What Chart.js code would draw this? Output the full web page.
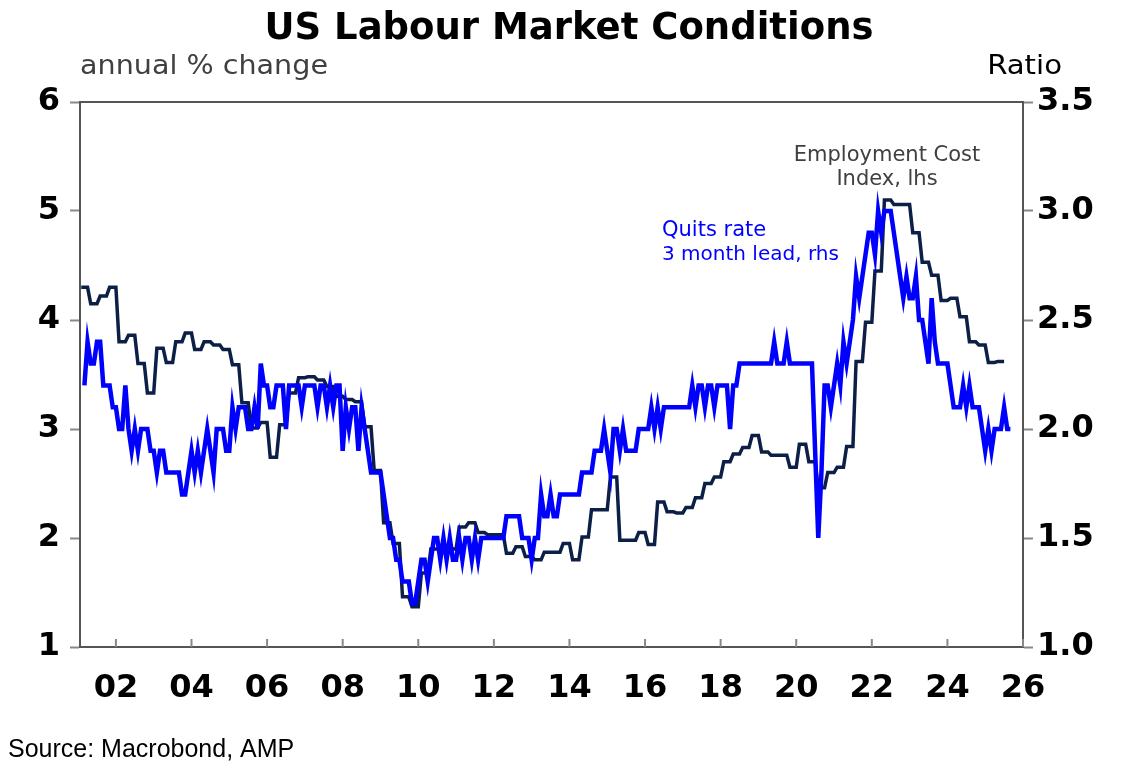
<!DOCTYPE html>
<html>
<head>
<meta charset="utf-8">
<title>US Labour Market Conditions</title>
<script src="https://cdn.jsdelivr.net/npm/chart.js@4.4.1/dist/chart.umd.min.js"></script>
<style>
  html, body { margin: 0; padding: 0; background: #fff; }
  #wrap { width: 1139px; height: 779px; }
</style>
</head>
<body>
<div id="wrap"><canvas id="labourChart" width="1139" height="779"></canvas></div>
<script>
// Employment Cost Index, annual % change, quarterly from 2001Q1 (lhs)
const eciFirstYear = 2001;
const eciValues = [
    4.30, 4.15, 4.22, 4.30,
    3.80, 3.86, 3.60, 3.33,
    3.74, 3.61, 3.80, 3.88,
    3.73, 3.80, 3.77, 3.73,
    3.59, 3.24, 3.01, 3.06,
    2.74, 3.04, 3.33, 3.47,
    3.48, 3.45, 3.39, 3.30,
    3.27, 3.25, 3.02, 2.62,
    2.14, 1.95, 1.46, 1.37,
    1.68, 1.90, 1.90, 1.90,
    2.10, 2.14, 2.05, 2.03,
    2.03, 1.86, 1.92, 1.83,
    1.80, 1.87, 1.87, 1.95,
    1.80, 2.01, 2.26, 2.26,
    2.56, 1.98, 1.98, 2.05,
    1.94, 2.33, 2.24, 2.23,
    2.28, 2.37, 2.50, 2.56,
    2.70, 2.77, 2.83, 2.94,
    2.79, 2.76, 2.76, 2.65,
    2.86, 2.70, 2.46, 2.60,
    2.65, 2.84, 3.62, 3.98,
    4.45, 5.10, 5.06, 5.06,
    4.80, 4.53, 4.41, 4.18,
    4.20, 4.03, 3.80, 3.77,
    3.61, 3.62
];

// Quits rate, 3 month lead, monthly from Mar 2001 (rhs)
const quitsFirstMonth = 2; // 0 = January 2001
const quitsValues = [
    2.2, 2.4, 2.3, 2.3, 2.4, 2.4, 2.2, 2.2, 2.2, 2.1,
    2.1, 2.0, 2.0, 2.2, 2.0, 1.9, 2.0, 1.9, 2.0, 2.0, 2.0, 1.9,
    1.9, 1.8, 1.9, 1.9, 1.8, 1.8, 1.8, 1.8, 1.8, 1.7, 1.7, 1.8,
    1.9, 1.8, 1.9, 1.8, 1.9, 2.0, 1.9, 1.8, 2.0, 2.0, 2.0, 1.9,
    1.9, 2.1, 2.0, 2.1, 2.1, 2.1, 2.0, 2.0, 2.1, 2.0, 2.3, 2.2,
    2.2, 2.1, 2.1, 2.2, 2.2, 2.2, 2.0, 2.2, 2.2, 2.2, 2.2, 2.1,
    2.2, 2.2, 2.2, 2.2, 2.1, 2.2, 2.2, 2.1, 2.2, 2.1, 2.2, 2.2,
    1.9, 2.1, 2.0, 2.1, 2.1, 1.9, 2.1, 2.0, 1.9, 1.8, 1.8, 1.8,
    1.8, 1.7, 1.6, 1.5, 1.5, 1.4, 1.4, 1.3, 1.3, 1.3, 1.2, 1.2,
    1.3, 1.4, 1.4, 1.3, 1.4, 1.5, 1.5, 1.4, 1.5, 1.4, 1.5, 1.4,
    1.4, 1.5, 1.4, 1.5, 1.5, 1.4, 1.5, 1.4, 1.5, 1.5, 1.5, 1.5,
    1.5, 1.5, 1.5, 1.5, 1.6, 1.6, 1.6, 1.6, 1.6, 1.5, 1.5, 1.5,
    1.4, 1.5, 1.5, 1.7, 1.6, 1.6, 1.7, 1.6, 1.6, 1.7, 1.7, 1.7,
    1.7, 1.7, 1.7, 1.7, 1.8, 1.8, 1.8, 1.8, 1.9, 1.9, 1.9, 2.0,
    1.9, 1.8, 2.0, 2.0, 1.9, 2.0, 1.9, 1.9, 1.9, 1.9, 2.0, 2.0,
    2.0, 2.0, 2.1, 2.0, 2.1, 2.0, 2.1, 2.1, 2.1, 2.1, 2.1, 2.1,
    2.1, 2.1, 2.1, 2.2, 2.1, 2.2, 2.2, 2.1, 2.2, 2.2, 2.1, 2.2,
    2.2, 2.2, 2.2, 2.0, 2.2, 2.2, 2.3, 2.3, 2.3, 2.3, 2.3, 2.3,
    2.3, 2.3, 2.3, 2.3, 2.3, 2.4, 2.3, 2.3, 2.3, 2.4, 2.3, 2.3,
    2.3, 2.3, 2.3, 2.3, 2.3, 2.3, 1.9, 1.5, 1.8, 2.2, 2.2, 2.1,
    2.2, 2.3, 2.2, 2.4, 2.3, 2.4, 2.5, 2.7, 2.6, 2.7, 2.8, 2.9,
    2.9, 2.8, 3.0, 2.9, 3.0, 3.0, 3.0, 2.9, 2.8, 2.7, 2.6, 2.7,
    2.6, 2.6, 2.7, 2.5, 2.5, 2.4, 2.3, 2.6, 2.4, 2.3, 2.3, 2.3,
    2.3, 2.2, 2.1, 2.1, 2.1, 2.2, 2.1, 2.2, 2.1, 2.1, 2.1, 2.0,
    1.9, 2.0, 1.9, 2.0, 2.0, 2.0, 2.1, 2.0, 2.0
];

// x axis
const xTickYears = [2002, 2004, 2006, 2008, 2010, 2012, 2014, 2016, 2018, 2020, 2022, 2024, 2026];
const xTickLabels = ['02', '04', '06', '08', '10', '12', '14', '16', '18', '20', '22', '24', '26'];
const lhsTicks = [1, 2, 3, 4, 5, 6];
const rhsTicks = [1.0, 1.5, 2.0, 2.5, 3.0, 3.5];

const NAVY = '#0c1f46';
const BLUE = '#0000ff';
const AXIS = '#555555';

// each quarter held flat from its first month to its end, like a monthly-converted quarterly series
const eciPoints = [];
eciValues.forEach((v, i) => {
    eciPoints.push({ x: eciFirstYear + i / 4 + 1 / 12, y: v });
    eciPoints.push({ x: eciFirstYear + (i + 1) / 4, y: v });
});

const quitsPoints = quitsValues.map((v, i) => ({ x: eciFirstYear + (quitsFirstMonth + i) / 12, y: v }));

function stretchText(ctx, text, x, y, font, color, align, sx) {
    ctx.save();
    ctx.font = font;
    ctx.fillStyle = color;
    ctx.textBaseline = 'alphabetic';
    ctx.textAlign = align;
    ctx.translate(x, y);
    ctx.scale(sx, 1);
    ctx.fillText(text, 0, 0);
    ctx.restore();
}

const decorPlugin = {
    id: 'decor',
    afterDraw(chart) {
        const ctx = chart.ctx;
        const area = chart.chartArea;
        const xs = chart.scales.x;

        // frame
        ctx.save();
        ctx.strokeStyle = AXIS;
        ctx.lineWidth = 2;
        ctx.strokeRect(area.left, area.top, area.right - area.left, area.bottom - area.top);

        // inward ticks on the time axis
        ctx.strokeStyle = '#888888';
        ctx.lineWidth = 2;
        xs.ticks.forEach((t, i) => {
            const px = xs.getPixelForTick(i);
            ctx.beginPath();
            ctx.moveTo(px, area.bottom);
            ctx.lineTo(px, area.bottom - 8);
            ctx.stroke();
        });
        ctx.restore();

        stretchText(ctx, 'US Labour Market Conditions', 569, 39, 'bold 37px "DejaVu Sans"', '#000', 'center', 1);
        stretchText(ctx, 'annual % change', 80, 74, '26px "DejaVu Sans"', '#404040', 'left', 1.1);
        stretchText(ctx, 'Ratio', 1062, 74, '27px "DejaVu Sans"', '#000', 'right', 1.08);

        stretchText(ctx, 'Employment Cost', 887, 161, '21px "DejaVu Sans"', '#404040', 'center', 1);
        stretchText(ctx, 'Index, lhs', 887, 185, '21px "DejaVu Sans"', '#404040', 'center', 1);
        stretchText(ctx, 'Quits rate', 662, 236, '21px "DejaVu Sans"', BLUE, 'left', 1);
        stretchText(ctx, '3 month lead, rhs', 662, 260, '20px "DejaVu Sans"', BLUE, 'left', 1);

        stretchText(ctx, 'Source: Macrobond, AMP', 8, 757, '25px "Liberation Sans"', '#000', 'left', 1);
    }
};

const tickFont = { family: 'DejaVu Sans', size: 32, weight: 'bold' };

new Chart(document.getElementById('labourChart').getContext('2d'), {
    type: 'line',
    data: {
        datasets: [{
            label: 'Quits rate, 3 month lead, rhs',
            data: quitsPoints,
            yAxisID: 'y1',
            borderColor: BLUE,
            borderWidth: 4.5,
            pointRadius: 0,
            tension: 0,
            order: 0
        }, {
            label: 'Employment Cost Index, lhs',
            data: eciPoints,
            yAxisID: 'y',
            borderColor: NAVY,
            borderWidth: 3.5,
            pointRadius: 0,
            tension: 0,
            order: 1
        }]
    },
    options: {
        responsive: false,
        animation: false,
        devicePixelRatio: 1,
        layout: { padding: { top: 102, left: 0, right: 0, bottom: 0 } },
        plugins: {
            legend: { display: false },
            tooltip: { enabled: false }
        },
        scales: {
            x: {
                type: 'linear',
                min: 2001.05,
                max: 2026,
                afterBuildTicks: axis => { axis.ticks = xTickYears.map(v => ({ value: v })); },
                afterFit: axis => { axis.height = 132; },
                ticks: {
                    autoSkip: false,
                    maxRotation: 0,
                    padding: 22,
                    color: '#000',
                    font: tickFont,
                    callback: (v, i) => xTickLabels[i]
                },
                grid: { display: false, drawTicks: false },
                border: { display: true, color: AXIS, width: 2 }
            },
            y: {
                position: 'left',
                min: 1,
                max: 6,
                afterBuildTicks: axis => { axis.ticks = lhsTicks.map(v => ({ value: v })); },
                afterFit: axis => { axis.width = 80; },
                ticks: {
                    padding: 10,
                    color: '#000',
                    font: tickFont,
                    callback: v => String(v)
                },
                grid: { drawOnChartArea: false, tickLength: 10, tickColor: '#888888', tickWidth: 2 },
                border: { display: true, color: AXIS, width: 2 }
            },
            y1: {
                position: 'right',
                min: 1,
                max: 3.5,
                afterBuildTicks: axis => { axis.ticks = rhsTicks.map(v => ({ value: v })); },
                afterFit: axis => { axis.width = 116; },
                ticks: {
                    padding: 4,
                    color: '#000',
                    font: tickFont,
                    callback: v => v.toFixed(1)
                },
                grid: { drawOnChartArea: false, tickLength: 10, tickColor: '#888888', tickWidth: 2 },
                border: { display: true, color: AXIS, width: 2 }
            }
        }
    },
    plugins: [decorPlugin]
});
</script>
</body>
</html>
